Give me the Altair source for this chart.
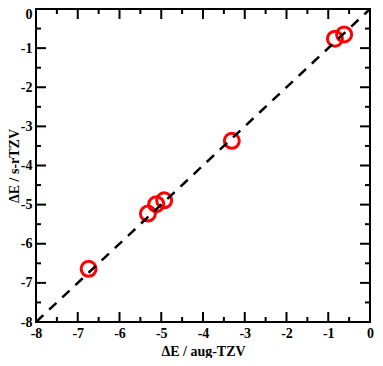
import altair as alt
import pandas as pd

# data
aug_tzv = [-6.74, -5.32, -5.12, -4.93, -3.31, -0.84, -0.62]
s_rtzv = [-6.64, -5.23, -4.99, -4.89, -3.37, -0.76, -0.65]
diag_x = [-8, 0]
diag_y = [-8, 0]
major_ticks = [-8, -7, -6, -5, -4, -3, -2, -1, 0]
minor_ticks = [-7.5, -6.5, -5.5, -4.5, -3.5, -2.5, -1.5, -0.5]

W, H = 334, 313
MAJ, MIN = 10, 5
FONT = "Liberation Serif"

xs = alt.Scale(domain=[-8, 0], nice=False, zero=False)
ys = alt.Scale(domain=[-8, 0], nice=False, zero=False)

x_axis = alt.Axis(
    title="ΔE / aug-TZV", values=major_ticks, labelExpr="'' + datum.value",
    ticks=False, tickSize=0, domain=False, grid=False, labelPadding=4,
    labelFlush=False, titleBaseline="alphabetic", titleY=33)
y_axis = alt.Axis(
    title="ΔE / s-rTZV", values=major_ticks, labelExpr="'' + datum.value",
    ticks=False, tickSize=0, domain=False, grid=False, labelPadding=4,
    labelFlush=False, titleBaseline="alphabetic", titleX=-18,
    labelOffset={"condition": {"test": "datum.value == 0", "value": 5}, "value": 0})

pts = pd.DataFrame({"x": aug_tzv, "y": s_rtzv})
diag = pd.DataFrame({"x": diag_x, "y": diag_y})
maj = pd.DataFrame({"v": major_ticks})
mnr = pd.DataFrame({"v": minor_ticks})


def xticks(df, y0, y1):
    return alt.Chart(df).mark_rule(color="black", strokeWidth=2).encode(
        x=alt.X("v:Q", scale=xs, axis=x_axis),
        y=alt.value(y0), y2=alt.value(y1))


def yticks(df, x0, x1):
    return alt.Chart(df).mark_rule(color="black", strokeWidth=2).encode(
        y=alt.Y("v:Q", scale=ys, axis=y_axis),
        x=alt.value(x0), x2=alt.value(x1))


tick_layers = [
    xticks(maj, H, H - MAJ), xticks(mnr, H, H - MIN),
    xticks(maj, 0, MAJ), xticks(mnr, 0, MIN),
    yticks(maj, 0, MAJ), yticks(mnr, 0, MIN),
    yticks(maj, W, W - MAJ), yticks(mnr, W, W - MIN),
]

points = alt.Chart(pts).mark_point(
    shape="circle", filled=False, color="#ff0000", strokeWidth=3, size=225, opacity=1
).encode(
    x=alt.X("x:Q", scale=xs, axis=x_axis),
    y=alt.Y("y:Q", scale=ys, axis=y_axis),
)

line = alt.Chart(diag).mark_line(color="black", strokeWidth=2.5, strokeDash=[10, 8]).encode(
    x=alt.X("x:Q", scale=xs, axis=x_axis),
    y=alt.Y("y:Q", scale=ys, axis=y_axis),
)

chart = alt.layer(*tick_layers, points, line).properties(
    width=W, height=H,
    autosize=alt.AutoSizeParams(type="none"),
    padding={"left": 28, "top": 1, "right": 5, "bottom": 36},
).configure_view(
    stroke="black", strokeWidth=2
).configure_axis(
    labelFont=FONT, labelFontSize=14, labelFontWeight="bold", labelColor="black",
    titleFont=FONT, titleFontSize=14, titleFontWeight="bold", titleColor="black",
)

chart.save("out.html", embed_options={"renderer": "svg", "actions": False})
